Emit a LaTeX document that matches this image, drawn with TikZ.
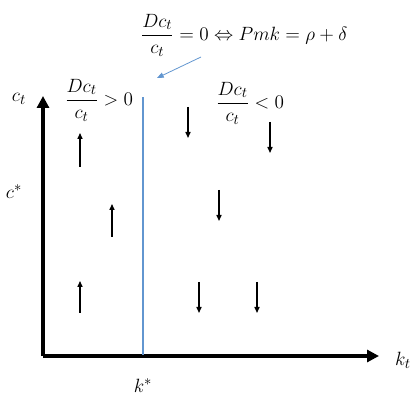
\documentclass[tikz,border=0pt]{standalone}
\usepackage{amsmath}
\usepackage{amssymb}
\usetikzlibrary{arrows.meta, positioning}
\definecolor{lineblue}{RGB}{98,150,208}

\begin{document}
\begin{tikzpicture}[
  x=0.75pt, y=-0.75pt,
  axis/.style={line width=2.8pt, -{Triangle[length=9pt,width=9pt]}},
  flow/.style={line width=1pt, -{Triangle[length=4.5pt,width=3.8pt]}},
  lbl/.style={font=\fontsize{15}{18}\selectfont, inner sep=1pt}
]
  \useasboundingbox (0,0) rectangle (417,398);

  % axes
  \coordinate (O)    at (43,356);
  \coordinate (ytop) at (43,96);
  \coordinate (xend) at (379,356);
  \draw[axis] (O) -- (ytop);
  \draw[axis] (O) -- (xend);

  % steady state line
  \coordinate (kbot) at (143,355);
  \coordinate (ktop) at (143,97);
  \draw[lineblue, line width=1.2pt] (kbot) -- (ktop);

  % labels
  \node[lbl] (ct)    at (19,99)  {$c_t$};
  \node[lbl] (cstar) at (14,192) {$c^{*}$};
  \node[lbl] (kt)    at (403,360) {$k_t$};
  \node[lbl] (kstar) at (143,386) {$k^{*}$};
  \node[lbl] (cond)  at (244,35)
    {$\dfrac{Dc_t}{c_t} = 0 \Leftrightarrow Pmk = \rho + \delta$};
  \node[lbl] (pos)   at (99,100) {$\dfrac{Dc_t}{c_t} > 0$};
  \node[lbl] (neg)   at (250,103) {$\dfrac{Dc_t}{c_t} < 0$};

  % pointer to the line
  \coordinate (pfrom) at (201,57);
  \coordinate (pto)   at (157,78);
  \draw[lineblue, line width=0.6pt, -{Triangle[length=5pt,width=4pt]}] (pfrom) -- (pto);

  % motion of c
  \foreach \x/\ya/\yb in {80/167/133, 112/237/204, 80/313/281}
    \draw[flow] (\x,\ya) -- (\x,\yb);
  \foreach \x/\ya/\yb in {188/107/138, 270/122/153, 219/190/221, 199/282/313, 257/282/313}
    \draw[flow] (\x,\ya) -- (\x,\yb);
\end{tikzpicture}
\end{document}
